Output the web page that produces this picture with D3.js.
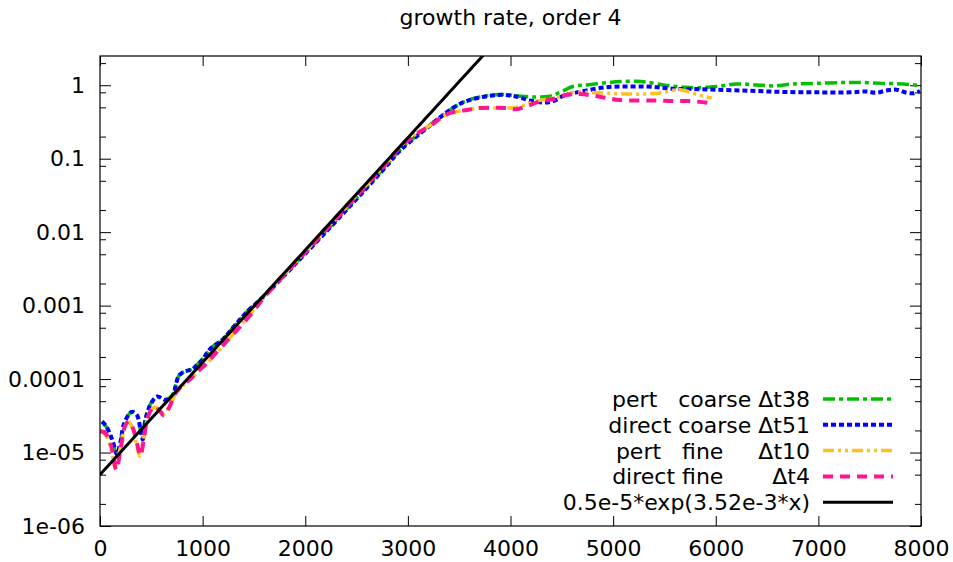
<!DOCTYPE html>
<html><head><meta charset="utf-8">
<script src="https://cdn.jsdelivr.net/npm/d3@7"></script>
<style>
html,body{margin:0;padding:0;background:#fff;}
text{font-family:"DejaVu Sans",sans-serif;fill:#000;}
</style></head><body>
<svg id="chart" width="953" height="562"></svg>
<script>
const chartTitle = "growth rate, order 4";
const xTicks = [0,1000,2000,3000,4000,5000,6000,7000,8000];
const yTicks = [1e-6,1e-5,1e-4,1e-3,1e-2,1e-1,1];
const yTickLabels = ["1e-06","1e-05","0.0001","0.001","0.01","0.1","1"];
const yMinorMantissas = [2,5,8];
const seriesNames = ["pert   coarse \u0394t38","direct coarse \u0394t51","pert   fine     \u0394t10","direct fine       \u0394t4","0.5e-5*exp(3.52e-3*x)"];
const seriesColors = ["#00c000","#0000ff","#ffc020","#ff1493","#000000"];

const pertCoarse = [[20,2.6e-5],[60,2.25e-5],[119,1.45e-5],[165,9.5e-6],[200,1.45e-5],[232,2.45e-5],[281,3.3e-5],[313,3.55e-5],[362,3.1e-5],[394,2.0e-5],[417,1.5e-5],[443,2.9e-5],[492,4.6e-5],[557,5.8e-5],[638,5.3e-5],[703,6.0e-5],[767,1.1e-4],[816,1.25e-4],[897,1.38e-4],[995,1.85e-4],[1076,2.6e-4],[1190,3.45e-4],[1320,5.5e-4],[1417,7.9e-4],[1600,1.37e-3],[1800,2.65e-3],[2000,5.2e-3],[2200,1.02e-2],[2400,2.05e-2],[2600,4.1e-2],[2800,8.4e-2],[2925,0.133],[3120,0.225],[3250,0.315],[3380,0.43],[3510,0.56],[3640,0.66],[3802,0.73],[3932,0.75],[4094,0.71],[4257,0.69],[4386,0.71],[4484,0.80],[4614,0.97],[4744,1.01],[4938,1.08],[5068,1.12],[5231,1.13],[5328,1.10],[5490,1.01],[5620,0.96],[5685,0.94],[5815,0.92],[6010,0.96],[6204,1.04],[6399,1.01],[6561,0.98],[6756,1.04],[6983,1.06],[7242,1.09],[7405,1.09],[7632,1.06],[7827,1.04],[8000,0.99]];

const directCoarse = [[20,2.64e-5],[60,2.3e-5],[119,1.5e-5],[165,9.5e-6],[200,1.4e-5],[232,2.4e-5],[281,3.3e-5],[313,3.6e-5],[362,3.2e-5],[394,2.1e-5],[417,1.5e-5],[443,2.8e-5],[492,4.5e-5],[557,5.8e-5],[638,5.2e-5],[703,5.8e-5],[767,1.1e-4],[816,1.26e-4],[897,1.36e-4],[995,1.82e-4],[1076,2.6e-4],[1190,3.4e-4],[1320,5.5e-4],[1417,7.8e-4],[1600,1.35e-3],[1800,2.6e-3],[2000,5.1e-3],[2200,1.0e-2],[2400,2.0e-2],[2600,4.0e-2],[2800,8.2e-2],[2925,0.13],[3120,0.22],[3250,0.31],[3380,0.43],[3510,0.56],[3640,0.65],[3802,0.72],[3932,0.74],[4010,0.72],[4094,0.68],[4192,0.62],[4322,0.58],[4419,0.61],[4517,0.72],[4614,0.78],[4744,0.85],[4938,0.94],[5133,0.96],[5328,0.96],[5490,0.92],[5620,0.89],[5750,0.89],[6010,0.87],[6334,0.84],[6659,0.81],[6983,0.80],[7307,0.80],[7470,0.82],[7567,0.79],[7665,0.85],[7762,0.87],[7860,0.79],[7925,0.78],[7990,0.83]];

const pertFine = [[0,1.9e-5],[35,1.85e-5],[70,1.6e-5],[115,1.0e-5],[150,6.2e-6],[195,1.1e-5],[245,2.3e-5],[278,2.6e-5],[325,2.0e-5],[358,1.25e-5],[390,8.8e-6],[424,1.5e-5],[456,2.7e-5],[505,3.9e-5],[537,4.1e-5],[586,3.6e-5],[620,3.3e-5],[670,4.1e-5],[735,6.2e-5],[816,8.3e-5],[881,9.8e-5],[930,1.15e-4],[1027,1.55e-4],[1092,1.95e-4],[1190,2.75e-4],[1320,4.5e-4],[1449,7.2e-4],[1600,1.32e-3],[1800,2.7e-3],[2000,5.4e-3],[2200,1.08e-2],[2400,2.2e-2],[2600,4.45e-2],[2800,9.0e-2],[2925,0.146],[3023,0.19],[3120,0.237],[3218,0.285],[3310,0.35],[3413,0.42],[3500,0.445],[3575,0.465],[3700,0.49],[3862,0.49],[3997,0.49],[4094,0.51],[4224,0.59],[4354,0.65],[4484,0.69],[4614,0.80],[4744,0.80],[4938,0.78],[5133,0.76],[5328,0.76],[5490,0.80],[5620,0.87],[5655,0.87],[5717,0.83],[5815,0.75],[5912,0.69],[5960,0.67]];

const directFine = [[0,1.97e-5],[35,1.9e-5],[70,1.7e-5],[119,1.09e-5],[158,5.8e-6],[200,1.09e-5],[248,2.38e-5],[281,2.64e-5],[329,2.0e-5],[362,1.3e-5],[394,9.1e-6],[427,1.5e-5],[459,2.8e-5],[508,4.0e-5],[540,4.2e-5],[589,3.6e-5],[621,3.2e-5],[670,4.0e-5],[735,6.4e-5],[816,8.6e-5],[881,1.0e-4],[930,1.2e-4],[1027,1.58e-4],[1092,2.0e-4],[1190,2.8e-4],[1320,4.4e-4],[1449,7.0e-4],[1600,1.3e-3],[1800,2.65e-3],[2000,5.3e-3],[2200,1.07e-2],[2400,2.17e-2],[2600,4.4e-2],[2800,8.9e-2],[2925,0.144],[3023,0.187],[3120,0.235],[3218,0.28],[3310,0.35],[3413,0.42],[3500,0.445],[3575,0.46],[3700,0.49],[3862,0.495],[3960,0.49],[4050,0.47],[4159,0.52],[4289,0.60],[4419,0.65],[4549,0.74],[4679,0.76],[4809,0.72],[4938,0.67],[5068,0.63],[5263,0.62],[5425,0.62],[5588,0.61],[5750,0.61],[5945,0.57]];

const fitAmplitude = 0.5e-5;
const fitRate = 3.52e-3;
const fitSampleX = d3.range(0, 4001, 50);

const svg = d3.select("#chart");
const mLeft = 100, mRight = 921, mTop = 56, mBottom = 526;
const x = d3.scaleLinear().domain([0, 8000]).range([mLeft, mRight]);
const y = d3.scaleLog().domain([1e-6, 2.5]).range([mBottom, mTop]);
const FS = 22;

svg.append("text").attr("x", (mLeft + mRight) / 2).attr("y", 25)
  .attr("text-anchor", "middle").style("font-size", FS + "px").text(chartTitle);

svg.append("defs").append("clipPath").attr("id", "clip")
  .append("rect").attr("x", mLeft).attr("y", mTop).attr("width", mRight - mLeft).attr("height", mBottom - mTop);

const minorTicks = [];
for (let e = -6; e <= 0; e++) for (const m of yMinorMantissas) { const v = m * Math.pow(10, e); if (v <= 2.5) minorTicks.push(v); }

function styleAxis(g) {
  g.select(".domain").remove();
  g.selectAll(".tick line").attr("stroke", "#000").attr("stroke-width", 1);
  g.selectAll(".tick text").style("font-size", FS + "px").style("font-family", "DejaVu Sans");
}

svg.append("g").attr("transform", `translate(0,${mBottom})`)
  .call(d3.axisBottom(x).tickValues(xTicks).tickSize(-10).tickPadding(14).tickFormat(d3.format("d")))
  .call(styleAxis);
svg.append("g").attr("transform", `translate(0,${mTop})`)
  .call(d3.axisTop(x).tickValues(xTicks).tickSize(-10).tickFormat(""))
  .call(styleAxis);
svg.append("g").attr("transform", `translate(${mLeft},0)`)
  .call(d3.axisLeft(y).tickValues(yTicks).tickSize(-11).tickPadding(15).tickFormat((d, i) => yTickLabels[i]))
  .call(styleAxis);
svg.append("g").attr("transform", `translate(${mLeft},0)`)
  .call(d3.axisLeft(y).tickValues(minorTicks).tickSize(-6).tickFormat(""))
  .call(styleAxis);
svg.append("g").attr("transform", `translate(${mRight},0)`)
  .call(d3.axisRight(y).tickValues(yTicks).tickSize(-11).tickFormat(""))
  .call(styleAxis);
svg.append("g").attr("transform", `translate(${mRight},0)`)
  .call(d3.axisRight(y).tickValues(minorTicks).tickSize(-6).tickFormat(""))
  .call(styleAxis);

const fitData = fitSampleX.map(v => [v, fitAmplitude * Math.exp(fitRate * v)]);
const seriesData = [pertCoarse, directCoarse, pertFine, directFine, fitData];
const dashes = ["12,4,4,4", "5,3", "11,4,3,4,3,4", "10,7", null];
const widths = [3.5, 4, 3.5, 4, 3];

const line = d3.line().x(d => x(d[0])).y(d => y(d[1])).curve(d3.curveCatmullRom.alpha(0.5));
const plot = svg.append("g").attr("clip-path", "url(#clip)");
seriesData.forEach((data, i) => {
  plot.append("path").datum(data).attr("d", line).attr("fill", "none")
    .attr("stroke", seriesColors[i]).attr("stroke-width", widths[i])
    .attr("stroke-dasharray", dashes[i]);
});

// legend
const legY0 = 399, legDy = 25.8;
seriesNames.forEach((name, i) => {
  const ly = legY0 + i * legDy;
  svg.append("text").attr("x", 810).attr("y", ly).attr("dy", "0.36em")
    .attr("text-anchor", "end").attr("xml:space", "preserve").style("white-space", "pre")
    .style("font-size", FS + "px").text(name);
  svg.append("line").attr("x1", 823).attr("x2", 893).attr("y1", ly).attr("y2", ly)
    .attr("stroke", seriesColors[i]).attr("stroke-width", widths[i]).attr("stroke-dasharray", dashes[i]);
});

svg.append("rect").attr("x", mLeft).attr("y", mTop).attr("width", mRight - mLeft).attr("height", mBottom - mTop)
  .attr("fill", "none").attr("stroke", "#000").attr("stroke-width", 1.2);
</script>
</body></html>
